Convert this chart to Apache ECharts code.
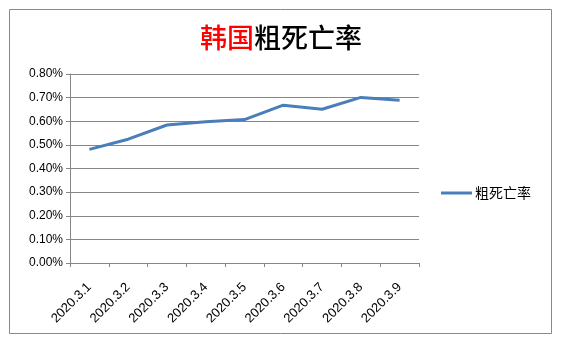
<!DOCTYPE html>
<html>
<head>
<meta charset="utf-8">
<script src="https://cdn.jsdelivr.net/npm/echarts@6/dist/echarts.min.js"></script>
<style>
    html, body { margin: 0; padding: 0; background: #fff; }
    #chart { width: 562px; height: 353px; }
</style>
</head>
<body>
<div id="chart"></div>
<script>
const dates = ['2020.3.1', '2020.3.2', '2020.3.3', '2020.3.4', '2020.3.5', '2020.3.6', '2020.3.7', '2020.3.8', '2020.3.9'];
// 粗死亡率 (%)
const rates = [0.481, 0.524, 0.584, 0.598, 0.607, 0.668, 0.651, 0.701, 0.689];
const seriesName = '粗死亡率';

const chart = echarts.init(document.getElementById('chart'));
chart.setOption({
    animation: false,
    graphic: [{
        type: 'rect',
        shape: { x: 9.5, y: 9.5, width: 542, height: 324 },
        style: { fill: 'none', stroke: '#898989', lineWidth: 1 }
    }],
    title: {
        text: '{a|韩国}{b|粗死亡率}',
        left: 'center',
        top: 19,
        textStyle: {
            rich: {
                a: { fontSize: 27, fontWeight: 500, color: '#ff0000', fontFamily: 'Noto Sans CJK SC' },
                b: { fontSize: 27, fontWeight: 500, color: '#000', fontFamily: 'Noto Sans CJK SC' }
            }
        }
    },
    legend: {
        left: 441,
        top: 186,
        padding: 0,
        itemWidth: 31,
        itemHeight: 3,
        itemGap: 5,
        data: [{ name: seriesName, icon: 'rect' }],
        textStyle: { fontSize: 14, color: '#000', fontFamily: 'Noto Sans CJK SC', padding: [0, 0, 0, -2] }
    },
    grid: { left: 70, right: 143, top: 74, bottom: 90 },
    xAxis: {
        type: 'category',
        data: dates,
        boundaryGap: true,
        axisLine: { lineStyle: { color: '#868686' } },
        axisTick: { show: true, length: 4, lineStyle: { color: '#868686' } },
        axisLabel: {
            rotate: 45,
            margin: 22,
            fontSize: 13,
            color: '#000',
            fontFamily: 'Liberation Sans'
        }
    },
    yAxis: {
        type: 'value',
        min: 0,
        max: 0.8,
        interval: 0.1,
        axisLine: { show: true, lineStyle: { color: '#868686' } },
        axisTick: { show: true, length: 4, lineStyle: { color: '#868686' } },
        splitLine: { lineStyle: { color: '#868686' } },
        axisLabel: {
            fontSize: 12,
            color: '#000',
            margin: 7,
            fontFamily: 'Liberation Sans',
            formatter: v => v.toFixed(2) + '%'
        }
    },
    series: [{
        name: seriesName,
        type: 'line',
        data: rates,
        symbol: 'none',
        lineStyle: { color: '#4a7ebb', width: 3 },
        itemStyle: { color: '#4a7ebb' }
    }]
});
</script>
</body>
</html>
